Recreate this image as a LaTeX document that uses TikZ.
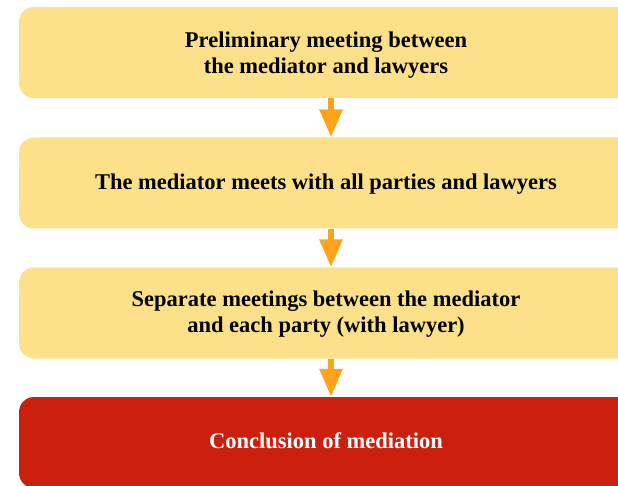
\documentclass[tikz,border=0pt]{standalone}
\usepackage{fontspec}
\setmainfont{Liberation Serif}
\usetikzlibrary{arrows.meta}
\definecolor{boxyellow}{RGB}{252,224,138}
\definecolor{boxred}{RGB}{204,32,14}
\definecolor{arroworange}{RGB}{255,163,26}
\tikzset{
  stepbox/.style={rectangle, rounded corners=15pt, minimum width=614pt, minimum height=91pt,
    inner sep=0pt},
  steptext/.style={inner sep=0pt, align=center, font=\fontsize{22.5}{26}\selectfont\bfseries},
  flowarrow/.style={draw=arroworange, line width=6pt, -{Triangle[width=22pt,length=28pt,fill=arroworange]}}
}
\begin{document}
\begin{tikzpicture}[x=1pt,y=-1pt]
\useasboundingbox (0,0) rectangle (618,486);
\node[stepbox, fill=boxyellow] (b1) at (326,52.5) {};
\node[stepbox, fill=boxyellow] (b2) at (326,183) {};
\node[stepbox, fill=boxyellow] (b3) at (326,313) {};
\node[stepbox, fill=boxred] (b4) at (326,442.5) {};
\node[steptext] (t1) at ([yshift=-2.3pt]b1.center) {Preliminary meeting between\\the mediator and lawyers};
\node[steptext] (t2) at ([yshift=-1pt]b2.center) {The mediator meets with all parties and lawyers};
\node[steptext] (t3) at ([yshift=-1.5pt]b3.center) {Separate meetings between the mediator\\and each party (with lawyer)};
\node[steptext, text=white] (t4) at ([yshift=2pt]b4.center) {Conclusion of mediation};
\draw[flowarrow] (b1.south -| 331,0) -- (b2.north -| 331,0);
\draw[flowarrow] (b2.south -| 331,0) -- (b3.north -| 331,0);
\draw[flowarrow] (b3.south -| 331,0) -- (b4.north -| 331,0);
\end{tikzpicture}
\end{document}
